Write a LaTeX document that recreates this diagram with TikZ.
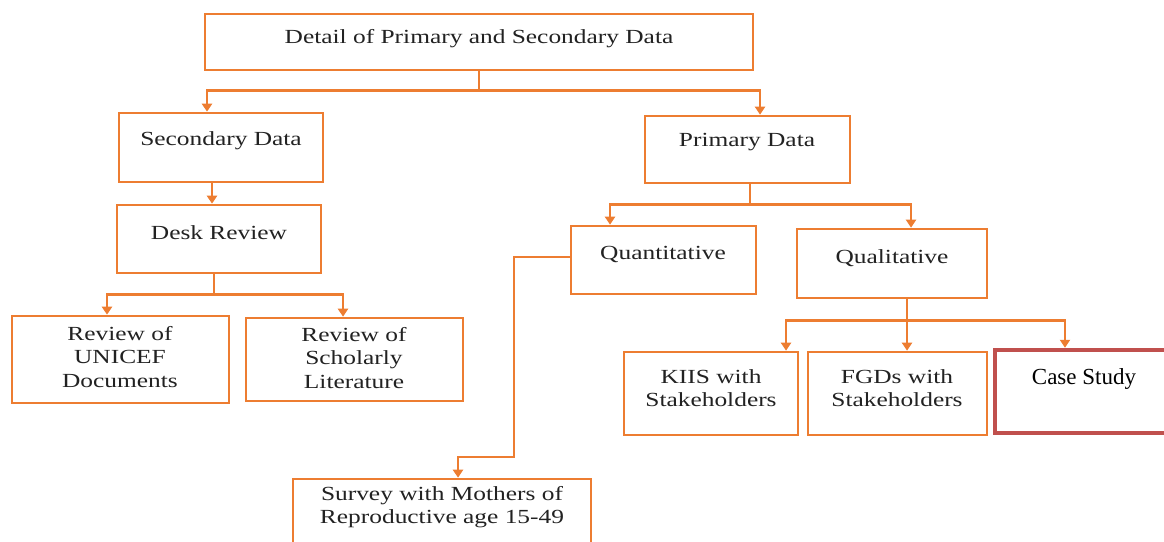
\documentclass[tikz,border=0pt]{standalone}
\usepackage{graphicx}
\usepackage{fontspec}
\setmainfont{Liberation Serif}
\usetikzlibrary{arrows.meta}
\definecolor{flow}{HTML}{ED7D31}
\definecolor{caseline}{HTML}{C0504D}
\definecolor{ink}{HTML}{222222}

% widened serif text used inside the orange boxes
\newcommand\wide[1]{\scalebox{1.27}[1]{#1}}

% box from its corner pixels: name, x1, y1, x2, y2
\newcommand\flowbox[6][]{%
  \node[box,#1, minimum width={#5-#3}, minimum height={#6-#4}]
    (#2) at ({(#3+#5)/2},{(#4+#6)/2}) {};}

\begin{document}
\begin{tikzpicture}[x=1pt,y=-1pt,
  box/.style={draw=flow, line width=2.6pt, fill=white, inner sep=0pt},
  lbl/.style={font=\fontsize{20}{23.5}\selectfont, text=ink,
              align=center, inner sep=0pt},
  link/.style={draw=flow, line width=2.6pt},
  arr/.style={link, -{Triangle[width=10pt,length=8pt]}},
]
\useasboundingbox (0,0) rectangle (1164,541);

% boxes
\flowbox{top}{205}{14}{753}{70}
\flowbox{sec}{119}{113}{323}{182}
\flowbox{prim}{645}{116}{850}{183}
\flowbox{desk}{117}{205}{321}{273}
\flowbox{unicef}{12}{316}{229}{403}
\flowbox{schol}{246}{318}{463}{401}
\flowbox{quant}{571}{226}{756}{294}
\flowbox{qual}{797}{229}{987}{298}
\flowbox{kiis}{624}{352}{798}{435}
\flowbox{fgds}{808}{352}{987}{435}
\flowbox[draw=caseline, line width=4.5pt]{case}{995}{350}{1180}{433}
\flowbox{survey}{293}{479}{591}{570}

% labels
\node[lbl] (topT) at (479,39) {\wide{Detail of Primary and Secondary Data}};
\node[lbl] (secT) at (221,141) {\wide{Secondary Data}};
\node[lbl] (primT) at (747,142) {\wide{Primary Data}};
\node[lbl] (deskT) at (219,233) {\wide{Desk Review}};
\node[lbl] (unicefT) at (120,357) {\wide{Review of}\\\wide{UNICEF}\\\wide{Documents}};
\node[lbl] (scholT) at (354,358) {\wide{Review of}\\\wide{Scholarly}\\\wide{Literature}};
\node[lbl] (quantT) at (663,254) {\wide{Quantitative}};
\node[lbl] (qualT) at (892,258) {\wide{Qualitative}};
\node[lbl] (kiisT) at (711,388) {\wide{KIIS with}\\\wide{Stakeholders}};
\node[lbl] (fgdsT) at (897,388) {\wide{FGDs with}\\\wide{Stakeholders}};
\node[font=\fontsize{23}{27}\selectfont, text=black, inner sep=0pt]
  (caseT) at (1084,379) {Case Study};
\node[lbl] (surveyT) at (442,507) {\wide{Survey with Mothers of}\\\wide{Reproductive age 15-49}};

% top level split
\draw[link] (top.south) -- ++(0,19) coordinate (topbus);
\draw[arr] (topbus) -| ([xshift=-14pt]sec.north);
\draw[arr] (topbus) -| ([xshift=12.5pt]prim.north);

% secondary branch
\draw[arr] ([xshift=-9pt]sec.south) -- ([xshift=-9pt]sec.south |- desk.north);
\draw[link] ([xshift=-5pt]desk.south) -- ++(0,20) coordinate (deskbus);
\draw[arr] (deskbus) -| ([xshift=-13.5pt]unicef.north);
\draw[arr] (deskbus) -| ([xshift=-11.5pt]schol.north);

% primary branch
\draw[link] ([xshift=2.5pt]prim.south) -- ++(0,20) coordinate (primbus);
\draw[arr] (primbus) -| ([xshift=-53.5pt]quant.north);
\draw[arr] (primbus) -| ([xshift=19pt]qual.north);

% quantitative to survey
\draw[arr] ([yshift=3pt]quant.west) -| (514,457) -| ([xshift=16pt]survey.north);

% qualitative branch
\draw[link] ([xshift=15pt]qual.south) -- ++(0,21) coordinate (qualbus);
\draw[arr] (qualbus) -| ([xshift=75pt]kiis.north);
\draw[arr] (qualbus) -- ([xshift=9.5pt]fgds.north);
\draw[arr] (qualbus) -| ([xshift=-22.5pt]case.north);
\end{tikzpicture}
\end{document}
